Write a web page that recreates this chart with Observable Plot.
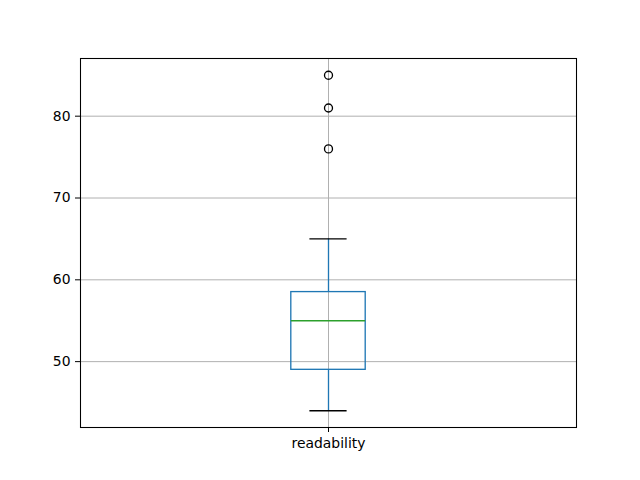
<!DOCTYPE html>
<html>
<head>
<meta charset="utf-8">
<script src="https://cdn.jsdelivr.net/npm/d3@7"></script>
<script src="https://cdn.jsdelivr.net/npm/@observablehq/plot@0.6"></script>
<style>
  html, body { margin: 0; padding: 0; background: #fff; }
</style>
</head>
<body>
<div id="chart"></div>
<script>
// Data
const categories = ["readability"];
const q1Values = [49];
const medianValues = [55];
const q3Values = [58.5];
const whiskerLowValues = [44];
const whiskerHighValues = [65];
const outlierValues = [85, 81, 76];
const yTicks = [50, 60, 70, 80];

const boxes = categories.map((c, i) => ({
  pos: i + 1, label: c,
  q1: q1Values[i], median: medianValues[i], q3: q3Values[i],
  lo: whiskerLowValues[i], hi: whiskerHighValues[i]
}));
const outliers = outlierValues.map(v => ({pos: 1, value: v}));

const halfBox = 0.075, halfCap = 0.0375;
const blue = "#1f77b4", green = "#2ca02c", grid = "#b0b0b0";

const chart = Plot.plot({
  width: 640,
  height: 480,
  marginLeft: 80,
  marginRight: 64,
  marginTop: 58,
  marginBottom: 53,
  style: {fontFamily: "DejaVu Sans", fontSize: "13.9px", color: "#000", background: "#fff"},
  x: {domain: [0.5, 1.5], ticks: boxes.map(d => d.pos), tickFormat: p => categories[p - 1], tickSize: 5, tickPadding: 6, label: null},
  y: {domain: [41.95, 87.05], ticks: yTicks, tickSize: 5, tickPadding: 5, label: null},
  marks: [
    Plot.ruleY(yTicks, {stroke: grid, strokeWidth: 1}),
    Plot.ruleX(boxes, {x: "pos", stroke: grid, strokeWidth: 1}),
    Plot.ruleX(boxes, {x: "pos", y1: "q3", y2: "hi", stroke: blue, strokeWidth: 1.33}),
    Plot.ruleX(boxes, {x: "pos", y1: "lo", y2: "q1", stroke: blue, strokeWidth: 1.33}),
    Plot.ruleY(boxes, {y: "hi", x1: d => d.pos - halfCap, x2: d => d.pos + halfCap, stroke: "#000", strokeWidth: 1.33}),
    Plot.ruleY(boxes, {y: "lo", x1: d => d.pos - halfCap, x2: d => d.pos + halfCap, stroke: "#000", strokeWidth: 1.33}),
    Plot.rect(boxes, {x1: d => d.pos - halfBox, x2: d => d.pos + halfBox, y1: "q1", y2: "q3", fill: "none", stroke: blue, strokeWidth: 1.33}),
    Plot.ruleY(boxes, {y: "median", x1: d => d.pos - halfBox, x2: d => d.pos + halfBox, stroke: green, strokeWidth: 1.33}),
    Plot.dot(outliers, {x: "pos", y: "value", r: 4, fill: "none", stroke: "#000", strokeWidth: 1.33}),
    Plot.frame({stroke: "#000", strokeWidth: 1.07})
  ]
});
document.getElementById("chart").appendChild(chart);
</script>
</body>
</html>
